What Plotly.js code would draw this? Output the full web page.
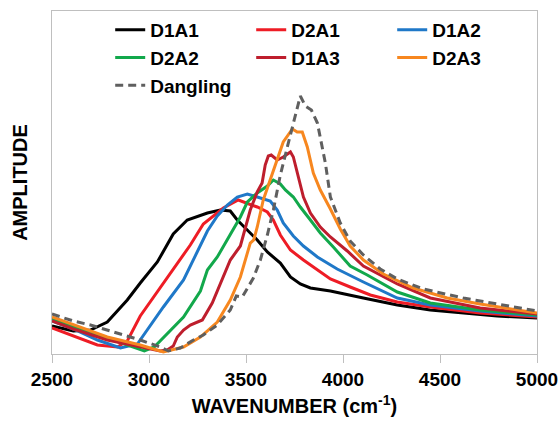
<!DOCTYPE html>
<html>
<head>
<meta charset="utf-8">
<script src="https://cdn.plot.ly/plotly-3.0.1.min.js"></script>
<style>html,body{margin:0;padding:0;background:#fff;}#chart{width:560px;height:422px;}</style>
</head>
<body>
<div id="chart"></div>
<script>
// Wavenumber (cm-1) and amplitude (arbitrary units)
const wD1A1 = [2500,2610,2698,2785,2888,2955,3043,3125,3197,3239,3301,3368,3419,3455,3507,3558,3610,3677,3729,3780,3832,3935,4105,4280,4450,4620,4795,5000];
const aD1A1 = [28,23,24,32,54,71,92,120,134,137,141,144,143,134,124,114,102,91,77,70,66,63,56,49,44,41,38,36];

const wD2A1 = [2500,2610,2734,2837,2888,2955,3043,3125,3213,3280,3383,3460,3507,3558,3610,3641,3677,3729,3796,3868,3935,4037,4141,4280,4450,4707,5000];
const aD2A1 = [26,18,9,7,13,38,62,84,109,130,146,154,151,147,142,134,119,104,94,84,75,67,59,52,47,41,37];

const wD1A2 = [2500,2610,2734,2853,2940,2991,3074,3178,3249,3301,3352,3404,3455,3507,3558,3625,3661,3692,3744,3796,3868,3970,4105,4280,4450,4707,5000];
const aD1A2 = [33,25,14,6,10,24,47,74,102,123,138,149,157,160,157,153,144,131,118,108,97,85,72,56,49,43,38];

const wD2A2 = [2500,2610,2785,2924,2976,3027,3094,3178,3265,3301,3352,3404,3471,3507,3558,3610,3641,3677,3703,3744,3780,3832,3883,3950,4037,4125,4280,4450,4707,5000];
const aD2A2 = [36,27,16,6,3,7,20,37,63,84,97,114,137,152,161,168,174,170,164,157,147,134,121,107,88,79,62,51,44,39];

const wD1A3 = [2500,2610,2785,2955,3058,3094,3125,3146,3178,3213,3275,3326,3368,3419,3471,3496,3522,3558,3583,3599,3615,3630,3661,3692,3729,3744,3770,3796,3832,3883,3935,4022,4105,4280,4450,4707,5000];
const aD1A3 = [33,25,14,7,3,4,8,17,24,29,34,51,71,94,108,126,144,162,171,189,198,199,194,197,202,197,177,157,141,127,117,103,88,70,56,46,40];

const wD2A3 = [2500,2610,2785,2955,3074,3178,3265,3352,3419,3471,3496,3522,3540,3558,3589,3625,3661,3692,3739,3764,3790,3816,3847,3883,3935,3986,4037,4105,4208,4362,4537,4707,5000];
const aD2A3 = [37,29,17,9,2,7,17,32,54,77,94,111,114,127,154,174,194,212,225,222,222,207,181,164,145,125,108,94,80,66,56,50,41];

const wDang = [2500,2610,2698,2837,2955,3058,3100,3161,3229,3280,3352,3419,3450,3481,3538,3574,3610,3641,3677,3713,3744,3780,3806,3837,3868,3909,3935,3986,4037,4105,4192,4280,4414,4620,4795,5000];
const aDang = [40,33,29,21,14,7,3,6,14,19,29,44,58,57,76,94,119,144,179,207,231,258,248,244,231,191,157,131,113,99,85,75,65,56,50,43];

const xTicks = [2500,3000,3500,4000,4500,5000];

const FONT = 'Liberation Sans, Arial, Helvetica, sans-serif';

function tr(name, x, y, color, dash) {
  return {type:'scatter', mode:'lines', name:name, x:x, y:y,
    line:{color:color, width:3, dash:dash||'solid'}};
}

const data = [
  tr('D1A1', wD1A1, aD1A1, '#000000'),
  tr('D2A1', wD2A1, aD2A1, '#EE1C25'),
  tr('D1A2', wD1A2, aD1A2, '#1F78C8'),
  tr('D2A2', wD2A2, aD2A2, '#12A84B'),
  tr('D1A3', wD1A3, aD1A3, '#BE1E2D'),
  tr('D2A3', wD2A3, aD2A3, '#F7871F'),
  tr('Dangling', wDang, aDang, '#5F5F5F', '8px,5px')
];

const layout = {
  width:560, height:422,
  margin:{l:52, r:23, t:11, b:68, pad:0},
  paper_bgcolor:'#ffffff', plot_bgcolor:'#ffffff',
  font:{family:FONT, color:'#000'},
  showlegend:true,
  legend:{
    orientation:'h', x:0.12, xanchor:'left', y:1.0, yanchor:'top',
    entrywidth:96, entrywidthmode:'pixels',
    font:{family:FONT, size:19, weight:'bold', color:'#000'},
    bgcolor:'rgba(0,0,0,0)', borderwidth:0
  },
  xaxis:{
    range:[2500,5000], tickvals:xTicks, ticktext:xTicks.map(String),
    ticks:'outside', ticklen:8, tickwidth:1, tickcolor:'#BFBFBF',
    showline:true, linecolor:'#BFBFBF', linewidth:1, mirror:true,
    showgrid:false, zeroline:false,
    tickfont:{family:FONT, size:19, weight:'bold', color:'#000'},
    title:{text:'WAVENUMBER (cm<sup>-1</sup>)', font:{family:FONT, size:20, weight:'bold', color:'#000'}, standoff:10},
    automargin:false
  },
  yaxis:{
    range:[0,343], showticklabels:false, ticks:'',
    showline:true, linecolor:'#BFBFBF', linewidth:1, mirror:true,
    showgrid:false, zeroline:false,
    title:{text:'AMPLITUDE', font:{family:FONT, size:20, weight:'bold', color:'#000'}, standoff:18},
    automargin:false
  }
};

Plotly.newPlot('chart', data, layout, {displayModeBar:false, staticPlot:true});
</script>
</body>
</html>
